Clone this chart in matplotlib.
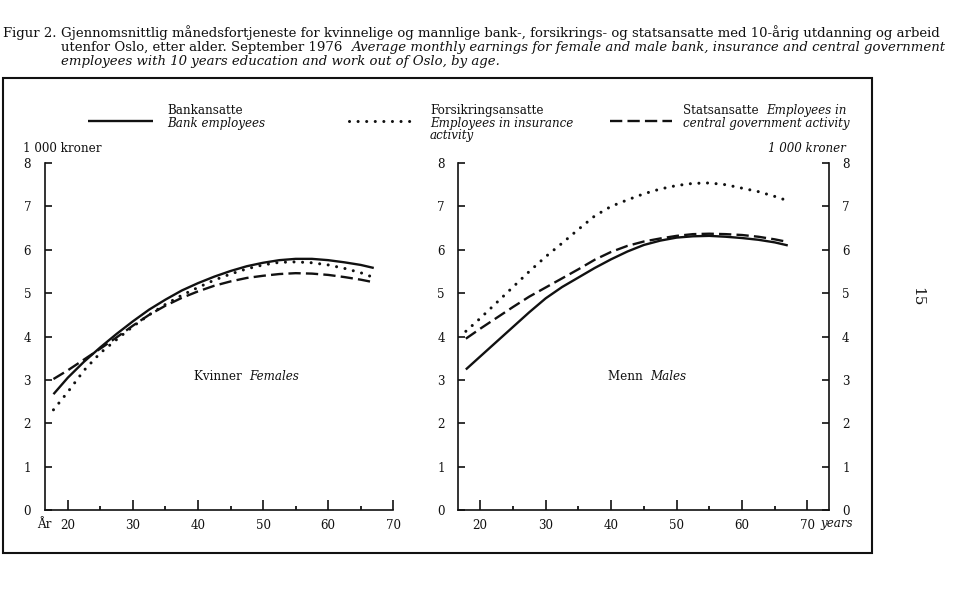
import matplotlib
matplotlib.use("Agg")
import matplotlib.pyplot as plt
from matplotlib.lines import Line2D
from matplotlib.patches import Rectangle

# ---------------- data ----------------
ages = [17.8, 20, 22.5, 25, 27.5, 30, 32.5, 35, 37.5, 40, 42.5, 45, 47.5,
        50, 52.5, 55, 57.5, 60, 62.5, 65, 67]

fem_bank = [2.67, 3.05, 3.42, 3.75, 4.06, 4.35, 4.62, 4.85, 5.06, 5.23, 5.38,
            5.51, 5.62, 5.70, 5.76, 5.79, 5.79, 5.76, 5.71, 5.65, 5.58]
fem_ins = [2.31, 2.72, 3.22, 3.62, 3.93, 4.23, 4.50, 4.74, 4.95, 5.13, 5.30,
           5.44, 5.56, 5.65, 5.71, 5.72, 5.70, 5.65, 5.57, 5.47, 5.36]
fem_gov = [3.02, 3.22, 3.47, 3.72, 3.98, 4.25, 4.50, 4.71, 4.89, 5.04, 5.17,
           5.27, 5.35, 5.40, 5.44, 5.46, 5.45, 5.42, 5.37, 5.31, 5.25]

male_bank = [3.24, 3.54, 3.88, 4.22, 4.56, 4.88, 5.14, 5.36, 5.58, 5.78, 5.96,
             6.11, 6.21, 6.28, 6.31, 6.32, 6.30, 6.27, 6.23, 6.17, 6.10]
male_ins = [4.12, 4.42, 4.78, 5.14, 5.50, 5.84, 6.15, 6.47, 6.78, 7.00, 7.15,
            7.29, 7.40, 7.48, 7.53, 7.54, 7.50, 7.42, 7.34, 7.23, 7.13]
male_gov = [3.95, 4.18, 4.43, 4.68, 4.92, 5.13, 5.34, 5.55, 5.77, 5.95, 6.09,
            6.19, 6.26, 6.32, 6.36, 6.37, 6.36, 6.34, 6.30, 6.24, 6.18]

x_major = [20, 30, 40, 50, 60, 70]
x_minor = [25, 35, 45, 55, 65]
y_ticks = [0, 1, 2, 3, 4, 5, 6, 7, 8]

# ---------------- style ----------------
W, H = 960, 606
FONT = "DejaVu Serif"
plt.rcParams["font.family"] = [FONT]
FS = 8.6
INK = "#111111"

STY_SOLID = dict(color=INK, lw=1.7, linestyle="-", solid_capstyle="butt")
STY_DOT = dict(color=INK, lw=2.2, linestyle=(0, (0.01, 2.8)), dash_capstyle="round")
STY_DASH = dict(color=INK, lw=1.7, linestyle=(0, (5.2, 2.2)), dash_capstyle="butt")

fig = plt.figure(figsize=(W / 100, H / 100), dpi=100)
fig.patch.set_facecolor("white")
renderer = fig.canvas.get_renderer()


def fx(x):
    return x / W


def fy(y):
    return 1 - y / H


def seq_text(x, y, parts, size=FS, **kw):
    """Place text pieces one after another starting at pixel x."""
    for s, style in parts:
        t = fig.text(fx(x), fy(y), s, fontsize=size, style=style, va="center",
                     ha="left", color=INK, **kw)
        bb = t.get_window_extent(renderer)
        x = bb.x1
    return x


# ---------------- axes ----------------
bottom_px, top_px = 510, 163
ax1 = fig.add_axes([fx(45), fy(bottom_px), (393.3 - 45) / W, (bottom_px - top_px) / H])
ax2 = fig.add_axes([fx(458), fy(bottom_px), (829 - 458) / W, (bottom_px - top_px) / H])

for ax in (ax1, ax2):
    ax.set_ylim(0, 8)
    ax.set_yticks(y_ticks)
    ax.set_xticks(x_major)
    ax.set_xticks(x_minor, minor=True)
    ax.spines["top"].set_visible(False)
    for sp in ax.spines.values():
        sp.set_linewidth(1.2)
        sp.set_color(INK)
    ax.tick_params(axis="x", which="major", direction="in", length=7, width=1.2,
                   pad=6.5, labelsize=FS, colors=INK)
    ax.tick_params(axis="x", which="minor", direction="in", length=3, width=1.2)
    ax.set_facecolor("none")

ax1.set_xlim(16.5, 70)
ax1.spines["right"].set_visible(False)
ax1.tick_params(axis="y", direction="in", length=5, width=1.2, pad=10,
                labelsize=FS, colors=INK)

ax2.set_xlim(16.6, 73.3)
ax2.tick_params(axis="y", direction="in", length=5, width=1.2, pad=9.4,
                labelsize=FS, colors=INK, left=True, right=True,
                labelleft=True, labelright=True)

ax1.plot(ages, fem_bank, **STY_SOLID)
ax1.plot(ages, fem_ins, **STY_DOT)
ax1.plot(ages, fem_gov, **STY_DASH)

ax2.plot(ages, male_bank, **STY_SOLID)
ax2.plot(ages, male_ins, **STY_DOT)
ax2.plot(ages, male_gov, **STY_DASH)

# ---------------- title ----------------
t1 = fig.text(fx(61), fy(33), "Gjennomsnittlig månedsfortjeneste for kvinnelige og mannlige "
              "bank-, forsikrings- og statsansatte med 10-årig utdanning og arbeid",
              fontsize=10, va="center", ha="left", color=INK)
w = t1.get_window_extent(renderer).width
TS = 10 * 889 / w
t1.set_fontsize(TS)
fig.text(fx(3), fy(33), "Figur 2.", fontsize=TS, va="center", ha="left", color=INK)
xe = seq_text(61, 47, [("utenfor Oslo, etter alder. September 1976  ", "normal")], size=TS)
seq_text(xe, 47, [("Average monthly earnings for female and male bank, insurance and "
                   "central government", "italic")], size=TS)
seq_text(61, 61, [("employees with 10 years education and work out of Oslo, by age.",
                   "italic")], size=TS)

# frame
fig.add_artist(Rectangle((fx(3), fy(553)), (872 - 3) / W, (553 - 78) / H,
                         transform=fig.transFigure, fill=False, lw=1.5,
                         edgecolor=INK))

# ---------------- legend ----------------
fig.add_artist(Line2D([fx(88), fx(153)], [fy(121), fy(121)], transform=fig.transFigure, **STY_SOLID))
fig.add_artist(Line2D([fx(349), fx(415)], [fy(121), fy(121)], transform=fig.transFigure, **STY_DOT))
fig.add_artist(Line2D([fx(610), fx(672)], [fy(120.5), fy(120.5)], transform=fig.transFigure, **STY_DASH))

seq_text(167, 110.5, [("Bankansatte", "normal")])
seq_text(167, 123.5, [("Bank employees", "italic")])
seq_text(430, 110.5, [("Forsikringsansatte", "normal")])
seq_text(430, 123.5, [("Employees in insurance", "italic")])
seq_text(430, 135.5, [("activity", "italic")])
seq_text(683, 110.5, [("Statsansatte  ", "normal"), ("Employees in", "italic")])
seq_text(683, 123.5, [("central government activity", "italic")])

fig.text(fx(23), fy(148), "1 000 kroner", fontsize=FS, va="center", ha="left", color=INK)
fig.text(fx(846), fy(148), "1 000 kroner", fontsize=FS, va="center", ha="right",
         style="italic", color=INK)

# axis extras
fig.text(fx(44), fy(524), "År", fontsize=FS, va="center", ha="center", color=INK)
fig.text(fx(820), fy(523.5), "years", fontsize=FS, va="center", ha="left",
         style="italic", color=INK)

# panel labels
seq_text(194, 377, [("Kvinner  ", "normal"), ("Females", "italic")])
seq_text(608, 377, [("Menn  ", "normal"), ("Males", "italic")])

# page number
fig.text(fx(917), fy(297), "15", fontsize=11, rotation=-90, va="center",
         ha="center", color=INK)

fig.savefig("out.png", dpi=100, facecolor="white")
